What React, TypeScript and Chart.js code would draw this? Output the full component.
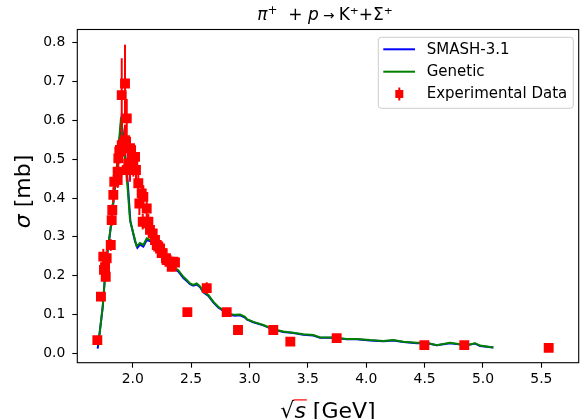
import React, { useEffect, useRef } from 'react';
import { Chart, registerables } from 'chart.js';

Chart.register(...registerables);

// ---------- data ----------
const xTicks = [2.0, 2.5, 3.0, 3.5, 4.0, 4.5, 5.0, 5.5];
const yTicks = [0.0, 0.1, 0.2, 0.3, 0.4, 0.5, 0.6, 0.7, 0.8];

const smashX = [1.70, 1.743, 1.771, 1.812, 1.84, 1.87, 1.902, 1.925, 1.955, 1.98, 2.02, 2.04, 2.062, 2.091, 2.12, 2.16, 2.2, 2.25, 2.3, 2.35, 2.39, 2.434, 2.463, 2.491, 2.519, 2.548, 2.577, 2.605, 2.648, 2.69, 2.733, 2.776, 2.833, 2.876, 2.919, 2.962, 2.977, 3.033, 3.119, 3.204, 3.29, 3.376, 3.461, 3.547, 3.604, 3.718, 3.833, 3.919, 4.033, 4.147, 4.233, 4.318, 4.433, 4.52, 4.604, 4.718, 4.79, 4.861, 4.932, 4.975, 5.089];
const smashY = [0.012, 0.118, 0.23, 0.324, 0.405, 0.495, 0.6, 0.545, 0.45, 0.34, 0.288, 0.272, 0.28, 0.275, 0.292, 0.288, 0.27, 0.247, 0.233, 0.219, 0.211, 0.194, 0.186, 0.178, 0.174, 0.177, 0.17, 0.157, 0.148, 0.131, 0.118, 0.109, 0.099, 0.097, 0.098, 0.092, 0.087, 0.08, 0.072, 0.061, 0.055, 0.052, 0.048, 0.046, 0.04, 0.04, 0.036, 0.036, 0.033, 0.031, 0.033, 0.029, 0.026, 0.026, 0.021, 0.026, 0.023, 0.021, 0.025, 0.019, 0.015];

const geneticX = [1.705, 1.743, 1.771, 1.812, 1.84, 1.87, 1.90, 1.92, 1.949, 1.977, 2.02, 2.034, 2.062, 2.091, 2.12, 2.16, 2.2, 2.25, 2.3, 2.35, 2.39, 2.434, 2.463, 2.491, 2.519, 2.548, 2.577, 2.605, 2.648, 2.69, 2.733, 2.776, 2.833, 2.876, 2.919, 2.962, 2.977, 3.033, 3.119, 3.204, 3.29, 3.376, 3.461, 3.547, 3.604, 3.718, 3.833, 3.919, 4.033, 4.147, 4.233, 4.318, 4.433, 4.52, 4.604, 4.718, 4.79, 4.861, 4.932, 4.975, 5.089];
const geneticY = [0.02, 0.12, 0.232, 0.326, 0.41, 0.5, 0.608, 0.55, 0.455, 0.343, 0.292, 0.276, 0.284, 0.279, 0.296, 0.29, 0.272, 0.25, 0.236, 0.222, 0.214, 0.197, 0.189, 0.18, 0.176, 0.18, 0.172, 0.159, 0.15, 0.133, 0.12, 0.111, 0.101, 0.099, 0.1, 0.094, 0.088, 0.081, 0.073, 0.062, 0.056, 0.053, 0.049, 0.047, 0.041, 0.041, 0.037, 0.037, 0.034, 0.032, 0.034, 0.03, 0.027, 0.027, 0.021, 0.027, 0.024, 0.021, 0.026, 0.02, 0.015];

const expX = [1.697, 1.728, 1.748, 1.754, 1.763, 1.769, 1.777, 1.812, 1.82, 1.825, 1.834, 1.842, 1.871, 1.871, 1.877, 1.885, 1.891, 1.906, 1.906, 1.934, 1.934, 1.949, 1.949, 1.962, 1.977, 1.977, 1.991, 2.005, 2.02, 2.028, 2.048, 2.057, 2.077, 2.086, 2.091, 2.12, 2.12, 2.134, 2.148, 2.171, 2.191, 2.206, 2.219, 2.234, 2.248, 2.257, 2.285, 2.291, 2.314, 2.334, 2.348, 2.362, 2.468, 2.634, 2.805, 2.902, 3.204, 3.35, 3.747, 4.498, 4.84, 5.563];
const expY = [0.034, 0.146, 0.249, 0.215, 0.222, 0.197, 0.245, 0.279, 0.343, 0.369, 0.408, 0.442, 0.446, 0.468, 0.502, 0.519, 0.524, 0.536, 0.665, 0.695, 0.549, 0.605, 0.472, 0.489, 0.528, 0.472, 0.506, 0.485, 0.506, 0.472, 0.438, 0.386, 0.412, 0.339, 0.403, 0.373, 0.335, 0.339, 0.318, 0.309, 0.292, 0.279, 0.275, 0.27, 0.258, 0.258, 0.245, 0.24, 0.236, 0.223, 0.236, 0.234, 0.106, 0.168, 0.106, 0.06, 0.06, 0.03, 0.039, 0.021, 0.021, 0.014];
const expErr = [0.01, 0.012, 0.02, 0.02, 0.015, 0.012, 0.02, 0.015, 0.015, 0.015, 0.02, 0.02, 0.02, 0.03, 0.03, 0.03, 0.03, 0.04, 0.095, 0.1, 0.04, 0.05, 0.03, 0.03, 0.03, 0.03, 0.03, 0.03, 0.03, 0.03, 0.03, 0.03, 0.03, 0.02, 0.03, 0.02, 0.02, 0.02, 0.02, 0.02, 0.015, 0.015, 0.015, 0.015, 0.012, 0.012, 0.012, 0.012, 0.012, 0.012, 0.01, 0.01, 0.005, 0.015, 0.008, 0.005, 0.005, 0.004, 0.004, 0.003, 0.003, 0.002];

const legendLabels = ['SMASH-3.1', 'Genetic', 'Experimental Data'];
const titleText = ['π', '+', '  + ', 'p', ' → ', 'K⁺+Σ⁺'];
const xLabelText = ['√', 's', ' [GeV]'];
const yLabelText = ['σ', ' [mb]'];

// ---------- style ----------
const FONT = '"DejaVu Sans"';
const BLUE = '#0000ff';
const GREEN = '#008000';
const RED = '#ff0000';

type Seg = { t: string; f: string; dy?: number; over?: number };

function drawSegs(ctx: CanvasRenderingContext2D, segs: Seg[], cx: number, baseline: number) {
  let total = 0;
  const widths = segs.map((s) => {
    ctx.font = s.f;
    const w = ctx.measureText(s.t).width;
    total += w;
    return w;
  });
  let x = cx - total / 2;
  ctx.textBaseline = 'alphabetic';
  ctx.textAlign = 'left';
  segs.forEach((s, i) => {
    ctx.font = s.f;
    ctx.fillText(s.t, x, baseline + (s.dy || 0));
    if (s.over) {
      ctx.save();
      ctx.lineWidth = 1.2;
      ctx.beginPath();
      ctx.moveTo(x - 1, baseline - s.over);
      ctx.lineTo(x + widths[i] + 1, baseline - s.over);
      ctx.stroke();
      ctx.restore();
    }
    x += widths[i];
  });
}

const decorPlugin = {
  id: 'decor',
  afterDatasetsDraw(chart: any) {
    const { ctx, scales } = chart;
    const xs = scales.x;
    const ys = scales.y;
    ctx.save();
    ctx.strokeStyle = RED;
    ctx.lineWidth = 2;
    expX.forEach((xv, i) => {
      const px = xs.getPixelForValue(xv);
      ctx.beginPath();
      ctx.moveTo(px, ys.getPixelForValue(expY[i] - expErr[i]));
      ctx.lineTo(px, ys.getPixelForValue(expY[i] + expErr[i]));
      ctx.stroke();
    });
    ctx.restore();
  },
  afterDraw(chart: any) {
    const { ctx, chartArea: a } = chart;
    ctx.save();
    // frame
    ctx.strokeStyle = '#000';
    ctx.lineWidth = 1.1;
    ctx.strokeRect(a.left, a.top, a.right - a.left, a.bottom - a.top);

    // legend
    const bx = 378.3, by = 37.3, bw = 195, bh = 71, r = 3;
    ctx.beginPath();
    ctx.moveTo(bx + r, by);
    ctx.lineTo(bx + bw - r, by);
    ctx.arcTo(bx + bw, by, bx + bw, by + r, r);
    ctx.lineTo(bx + bw, by + bh - r);
    ctx.arcTo(bx + bw, by + bh, bx + bw - r, by + bh, r);
    ctx.lineTo(bx + r, by + bh);
    ctx.arcTo(bx, by + bh, bx, by + bh - r, r);
    ctx.lineTo(bx, by + r);
    ctx.arcTo(bx, by, bx + r, by, r);
    ctx.closePath();
    ctx.fillStyle = 'rgba(255,255,255,0.8)';
    ctx.fill();
    ctx.strokeStyle = '#cccccc';
    ctx.lineWidth = 1;
    ctx.stroke();

    const rows = [49.3, 71.7, 94];
    ctx.lineWidth = 2;
    ctx.strokeStyle = BLUE;
    ctx.beginPath(); ctx.moveTo(383.3, rows[0]); ctx.lineTo(415, rows[0]); ctx.stroke();
    ctx.strokeStyle = GREEN;
    ctx.beginPath(); ctx.moveTo(383.3, rows[1]); ctx.lineTo(415, rows[1]); ctx.stroke();
    ctx.strokeStyle = RED;
    ctx.beginPath(); ctx.moveTo(399.3, rows[2] - 6.5); ctx.lineTo(399.3, rows[2] + 6.5); ctx.stroke();
    ctx.fillStyle = RED;
    ctx.fillRect(399.3 - 4, rows[2] - 4, 8, 8);

    ctx.fillStyle = '#000';
    ctx.font = `15px ${FONT}`;
    ctx.textBaseline = 'middle';
    ctx.textAlign = 'left';
    legendLabels.forEach((l, i) => ctx.fillText(l, 426.7, rows[i] + 0.5));

    // title
    const T = 17;
    const reg = `${T}px ${FONT}`;
    const ital = `italic ${T}px ${FONT}`;
    drawSegs(ctx, [
      { t: titleText[0], f: ital },
      { t: titleText[1], f: `${(T * 0.7).toFixed(1)}px ${FONT}`, dy: -6.5 },
      { t: titleText[2], f: reg },
      { t: titleText[3], f: ital },
      { t: titleText[4], f: `${(T * 0.8).toFixed(1)}px ${FONT}` },
      { t: titleText[5], f: reg },
    ], 325, 20);

    // x label
    const L = 22;
    drawSegs(ctx, [
      { t: xLabelText[0], f: `${L}px ${FONT}` },
      { t: xLabelText[1], f: `italic ${L}px ${FONT}`, over: L * 0.8 },
      { t: xLabelText[2], f: `${L}px ${FONT}` },
    ], (a.left + a.right) / 2, 417.5);

    // y label
    ctx.save();
    ctx.translate(30.4, 191.5);
    ctx.rotate(-Math.PI / 2);
    drawSegs(ctx, [
      { t: yLabelText[0], f: `italic ${L}px ${FONT}` },
      { t: yLabelText[1], f: `${L}px ${FONT}` },
    ], 0, 0);
    ctx.restore();

    ctx.restore();
  },
};

export default function App() {
  const ref = useRef<HTMLCanvasElement | null>(null);
  useEffect(() => {
    if (!ref.current) return;
    const pts = (xs: number[], ys: number[]) => xs.map((v, i) => ({ x: v, y: ys[i] }));
    const chart = new Chart(ref.current, {
      type: 'scatter',
      data: {
        datasets: [
          {
            label: legendLabels[2],
            data: pts(expX, expY),
            showLine: false,
            pointStyle: 'rect',
            pointRadius: 7,
            pointBorderWidth: 0,
            backgroundColor: RED,
            borderColor: RED,
          },
          {
            label: legendLabels[1],
            data: pts(geneticX, geneticY),
            showLine: true,
            pointRadius: 0,
            borderColor: GREEN,
            borderWidth: 2,
            tension: 0,
          },
          {
            label: legendLabels[0],
            data: pts(smashX, smashY),
            showLine: true,
            pointRadius: 0,
            borderColor: BLUE,
            borderWidth: 2,
            tension: 0,
          },
        ],
      },
      options: {
        animation: false,
        responsive: false,
        devicePixelRatio: 1,
        events: [],
        layout: { padding: { left: 0, top: 29.5, right: 7.3, bottom: 0 } },
        plugins: { legend: { display: false }, title: { display: false }, tooltip: { enabled: false } },
        scales: {
          x: {
            type: 'linear',
            min: 1.5254,
            max: 5.82,
            afterBuildTicks: (s: any) => { s.ticks = xTicks.map((v) => ({ value: v })); },
            afterFit: (s: any) => { s.height = 56.3; },
            ticks: {
              color: '#000',
              font: { family: 'DejaVu Sans', size: 13.9 },
              padding: 3,
              maxRotation: 0,
              autoSkip: false,
              callback: (v: any) => Number(v).toFixed(1),
            },
            grid: { drawOnChartArea: false, drawTicks: true, tickLength: 5, tickColor: '#000', tickWidth: 1.1, color: '#000' },
            border: { display: false },
          },
          y: {
            type: 'linear',
            min: -0.0242,
            max: 0.834,
            afterBuildTicks: (s: any) => { s.ticks = yTicks.map((v) => ({ value: v })); },
            afterFit: (s: any) => { s.width = 77.3; },
            ticks: {
              color: '#000',
              font: { family: 'DejaVu Sans', size: 13.9 },
              padding: 7,
              autoSkip: false,
              callback: (v: any) => Number(v).toFixed(1),
            },
            grid: { drawOnChartArea: false, drawTicks: true, tickLength: 5, tickColor: '#000', tickWidth: 1.1, color: '#000' },
            border: { display: false },
          },
        },
      },
      plugins: [decorPlugin],
    } as any);
    return () => chart.destroy();
  }, []);
  return (
    <div style={{ position: 'absolute', left: 0, top: 0, width: 586, height: 419, background: '#fff' }}>
      <canvas ref={ref} width={586} height={419} style={{ width: 586, height: 419 }} />
    </div>
  );
}
